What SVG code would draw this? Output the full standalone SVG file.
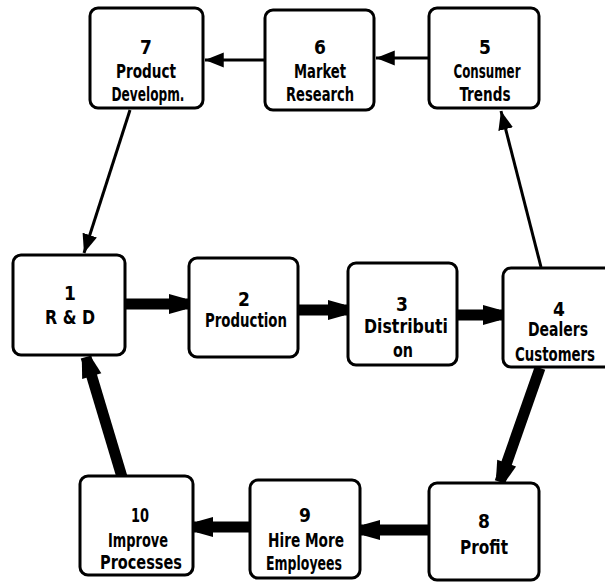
<svg xmlns="http://www.w3.org/2000/svg" width="605" height="582" viewBox="0 0 605 582">
<style>
.box{fill:#fff;stroke:#000;stroke-width:3}
.t{font-family:"DejaVu Sans Condensed","DejaVu Sans","Liberation Sans",sans-serif;font-weight:bold;font-size:19px;fill:#000;text-anchor:middle}
.thin{stroke:#000;stroke-width:3;fill:none;marker-end:url(#ah)}
.thick{stroke:#000;stroke-width:11;fill:none;marker-end:url(#bh)}
</style>
<defs>
<marker id="ah" markerUnits="userSpaceOnUse" markerWidth="20" markerHeight="20" viewBox="0 -8 16 16" refX="15" refY="0" orient="auto">
<path d="M0,-6 L15,0 L0,6 z" fill="#000"/>
</marker>
<marker id="bh" markerUnits="userSpaceOnUse" markerWidth="24" markerHeight="24" viewBox="0 -12 22 24" refX="20" refY="0" orient="auto">
<path d="M0,-10 L16,-5.5 L16,5.5 L0,10 z" fill="#000"/>
</marker>
</defs>
<rect width="605" height="582" fill="#fff"/>
<g id="connectors">
<line class="thin" x1="265" y1="60" x2="205" y2="60"/>
<line class="thin" x1="429" y1="58" x2="376" y2="58"/>
<line class="thin" x1="130" y1="110" x2="84" y2="253"/>
<line class="thin" x1="541" y1="267" x2="501" y2="111"/>
<line class="thick" x1="125" y1="304" x2="189" y2="304"/>
<line class="thick" x1="298" y1="310" x2="348" y2="310"/>
<line class="thick" x1="457" y1="315" x2="503" y2="315"/>
<line class="thick" x1="540" y1="368" x2="500" y2="482"/>
<line class="thick" x1="429" y1="530" x2="360" y2="530"/>
<line class="thick" x1="250" y1="527" x2="193" y2="527"/>
<line class="thick" x1="122" y1="477" x2="86" y2="357"/>
</g>
<g id="n7"><rect class="box" x="90" y="8" width="113" height="100" rx="8"/>
<text class="t" x="146" y="54">7</text><text class="t" x="146" y="78" textLength="60" lengthAdjust="spacingAndGlyphs">Product</text><text class="t" x="148" y="101" textLength="73" lengthAdjust="spacingAndGlyphs">Developm.</text></g>
<g id="n6"><rect class="box" x="265" y="10" width="109" height="100" rx="8"/>
<text class="t" x="320" y="54">6</text><text class="t" x="320" y="78" textLength="52" lengthAdjust="spacingAndGlyphs">Market</text><text class="t" x="320" y="101" textLength="68" lengthAdjust="spacingAndGlyphs">Research</text></g>
<g id="n5"><rect class="box" x="429" y="8" width="110" height="100" rx="8"/>
<text class="t" x="485" y="54">5</text><text class="t" x="487" y="78" textLength="67" lengthAdjust="spacingAndGlyphs">Consumer</text><text class="t" x="485" y="101" textLength="51" lengthAdjust="spacingAndGlyphs">Trends</text></g>
<g id="n1"><rect class="box" x="13" y="255" width="112" height="100" rx="8"/>
<text class="t" x="70" y="300">1</text><text class="t" x="70" y="324" textLength="50" lengthAdjust="spacingAndGlyphs">R &amp; D</text></g>
<g id="n2"><rect class="box" x="189" y="258" width="109" height="99" rx="8"/>
<text class="t" x="244" y="306">2</text><text class="t" x="246" y="327" textLength="82" lengthAdjust="spacingAndGlyphs">Production</text></g>
<g id="n3"><rect class="box" x="348" y="263" width="109" height="102" rx="8"/>
<text class="t" x="402" y="311">3</text><text class="t" x="406" y="333" textLength="84" lengthAdjust="spacingAndGlyphs">Distributi</text><text class="t" x="403" y="357" textLength="20" lengthAdjust="spacingAndGlyphs">on</text></g>
<g id="n4"><rect class="box" x="503" y="268" width="114" height="99" rx="8"/>
<text class="t" x="559" y="316">4</text><text class="t" x="558" y="336" textLength="60" lengthAdjust="spacingAndGlyphs">Dealers</text><text class="t" transform="translate(555,361) scale(0.78,1)">Customers</text></g>
<g id="n8"><rect class="box" x="429" y="483" width="110" height="97" rx="8"/>
<text class="t" x="484" y="528">8</text><text class="t" x="484" y="554" textLength="48" lengthAdjust="spacingAndGlyphs">Profit</text></g>
<g id="n9"><rect class="box" x="250" y="480" width="110" height="98" rx="8"/>
<text class="t" x="305" y="522">9</text><text class="t" x="306" y="547" textLength="76" lengthAdjust="spacingAndGlyphs">Hire More</text><text class="t" x="304" y="570" textLength="76" lengthAdjust="spacingAndGlyphs">Employees</text></g>
<g id="n10"><rect class="box" x="80" y="476" width="113" height="99" rx="8"/>
<text class="t" x="140" y="522" textLength="18" lengthAdjust="spacingAndGlyphs">10</text><text class="t" x="138" y="547" textLength="60" lengthAdjust="spacingAndGlyphs">Improve</text><text class="t" x="141" y="569" textLength="82" lengthAdjust="spacingAndGlyphs">Processes</text></g>
</svg>
